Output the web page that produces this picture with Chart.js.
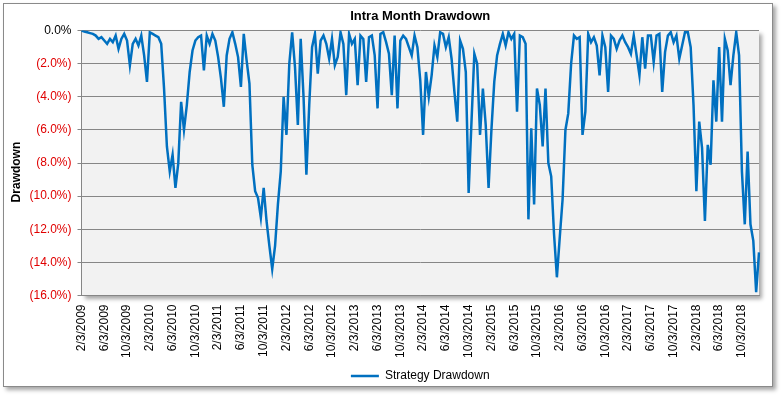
<!DOCTYPE html>
<html>
<head>
<meta charset="utf-8">
<title>Intra Month Drawdown</title>
<script src="https://cdn.jsdelivr.net/npm/chart.js@4.4.1/dist/chart.umd.min.js"></script>
<style>
    body { margin: 0; background: #fff; }
    #wrap { position: relative; width: 782px; height: 396px; }
    #frame {
        position: absolute; left: 3px; top: 3px; width: 768px; height: 382px;
        border: 1px solid #8a8a8a; background: #fff;
        box-shadow: 3px 3px 4px rgba(0, 0, 0, 0.35);
    }
    #chart { position: absolute; left: 0; top: 0; }
</style>
</head>
<body>
<div id="wrap">
    <div id="frame"></div>
    <canvas id="chart" width="782" height="396"></canvas>
</div>
<script>
// Tick labels shown on the x axis (one every 4 months)
const tickLabels = [
    "2/3/2009", "6/3/2009", "10/3/2009",
    "2/3/2010", "6/3/2010", "10/3/2010",
    "2/3/2011", "6/3/2011", "10/3/2011",
    "2/3/2012", "6/3/2012", "10/3/2012",
    "2/3/2013", "6/3/2013", "10/3/2013",
    "2/3/2014", "6/3/2014", "10/3/2014",
    "2/3/2015", "6/3/2015", "10/3/2015",
    "2/3/2016", "6/3/2016", "10/3/2016",
    "2/3/2017", "6/3/2017", "10/3/2017",
    "2/3/2018", "6/3/2018", "10/3/2018"
];

// Drawdown in %, two readings per month starting 2/3/2009
const drawdown = [
    0, -0.05, -0.1, -0.15, -0.2, -0.3, -0.5, -0.4, -0.6, -0.8,
    -0.5, -0.7, -0.3, -1.1, -0.5, -0.2, -0.6, -2.1, -0.8, -0.5,
    -0.9, -0.3, -1.5, -3.1, -0.1, -0.2, -0.3, -0.4, -0.8, -3.5,
    -7.0, -8.5, -7.5, -9.5, -8.0, -4.3, -6.0, -4.5, -2.5, -1.2,
    -0.6, -0.4, -0.3, -2.4, -0.3, -0.8, -0.2, -0.6, -1.6, -2.9,
    -4.6, -1.5, -0.5, -0.1, -0.8, -1.6, -3.4, -0.2, -1.8, -3.2,
    -8.1, -9.7, -10.1, -11.3, -9.5, -11.5, -13.0, -14.4, -13.0, -10.5,
    -8.5, -4.0, -6.3, -2.0, -0.1, -2.2, -5.7, -0.5, -4.0, -8.7,
    -4.5, -1.0, -0.2, -2.6, -0.6, -0.3, -0.8, -1.7, -0.5, -2.1,
    -1.6, -0.1, -0.8, -3.9, -0.2, -0.8, -0.5, -3.3, -0.3, -0.5,
    -3.1, -0.4, -0.3, -1.5, -4.7, -0.2, -0.1, -0.7, -1.4, -3.9,
    -0.3, -4.7, -0.6, -0.3, -0.5, -1.0, -1.5, -0.3, -1.0, -3.0,
    -6.3, -2.5, -4.0, -2.7, -0.9, -1.6, -0.1, -0.2, -1.0, -0.4,
    -1.7, -3.7, -5.5, -0.6, -1.1, -2.5, -9.8, -5.5, -1.4, -2.0,
    -6.3, -3.5, -5.7, -9.5, -6.0, -3.1, -1.5, -0.8, -0.2, -0.9,
    -0.1, -0.5, -0.2, -4.9, -0.3, -0.4, -0.8, -11.4, -5.9, -10.5,
    -3.5, -4.5, -7.0, -3.5, -8.0, -8.8, -12.3, -14.9, -12.5, -10.2,
    -6.0, -5.0, -2.0, -0.3, -0.5, -0.4, -6.3, -4.9, -0.2, -0.7,
    -0.4, -0.9, -2.7, -0.3, -1.0, -3.7, -0.3, -0.5, -1.1, -0.6,
    -0.3, -0.7, -1.0, -1.4, -0.3, -1.5, -2.7, -0.4, -2.3, -0.3,
    -0.3, -1.9, -0.3, -0.2, -3.7, -1.3, -0.3, -0.1, -0.7, -0.3,
    -1.7, -0.9, -0.1, -0.1, -1.0, -4.5, -9.7, -5.5, -7.1, -11.5,
    -6.9, -8.1, -3.0, -5.5, -1.0, -5.5, -0.5, -1.2, -3.3, -1.5,
    -0.1, -1.5, -8.5, -11.7, -7.3, -11.7, -12.7, -15.8, -13.4
];

const pointsPerTick = 8;
const categories = drawdown.map((v, i) => i % pointsPerTick === 0 ? (tickLabels[i / pointsPerTick] || "") : "");

const fontFamily = "'Liberation Sans', Arial, sans-serif";
const gridColor = "#868686";

// Grey plot area with a soft shadow, like the spreadsheet chart
const plotBackground = {
    id: "plotBackground",
    beforeDraw(chart) {
        const { ctx, chartArea: a } = chart;
        ctx.save();
        ctx.shadowColor = "rgba(0, 0, 0, 0.35)";
        ctx.shadowOffsetX = 3;
        ctx.shadowOffsetY = 3;
        ctx.shadowBlur = 4;
        ctx.fillStyle = "#f2f2f2";
        ctx.fillRect(a.left, a.top, a.right - a.left, a.bottom - a.top);
        ctx.restore();
    }
};

// Y axis title, placed a little below the middle as in the original
const yTitle = {
    id: "yTitle",
    afterDraw(chart) {
        const { ctx, chartArea: a } = chart;
        ctx.save();
        ctx.translate(17, (a.top + a.bottom) / 2 + 9);
        ctx.rotate(-Math.PI / 2);
        ctx.font = "bold 12px " + fontFamily;
        ctx.fillStyle = "#000";
        ctx.textAlign = "center";
        ctx.textBaseline = "middle";
        ctx.fillText("Drawdown", 0, 0);
        ctx.restore();
    }
};

new Chart(document.getElementById("chart"), {
    type: "line",
    data: {
        labels: categories,
        datasets: [{
            label: "Strategy Drawdown",
            data: drawdown,
            borderColor: "#0070c0",
            backgroundColor: "#0070c0",
            borderWidth: 2.5,
            pointRadius: 0,
            tension: 0,
            fill: false
        }]
    },
    options: {
        responsive: false,
        animation: false,
        layout: { padding: { left: 0, right: 23, top: 0, bottom: 4 } },
        plugins: {
            title: {
                display: true,
                text: "Intra Month Drawdown",
                color: "#000",
                fullSize: false,
                font: { family: fontFamily, size: 13, weight: "bold" },
                padding: { top: 9, bottom: 6 }
            },
            legend: {
                position: "bottom",
                fullSize: false,
                labels: {
                    color: "#000",
                    font: { family: fontFamily, size: 12 },
                    usePointStyle: true,
                    pointStyle: "line",
                    pointStyleWidth: 28,
                    boxWidth: 28
                }
            },
            tooltip: { enabled: false }
        },
        scales: {
            x: {
                offset: false,
                grid: { display: false, drawTicks: false },
                border: { display: true, color: gridColor },
                ticks: {
                    autoSkip: false,
                    minRotation: 90,
                    maxRotation: 90,
                    padding: 9,
                    color: "#000",
                    font: { family: fontFamily, size: 12 },
                    callback: function (value) {
                        const l = this.getLabelForValue(value);
                        return l === "" ? null : l;
                    }
                },
                afterFit: s => { s.height = 64.5; }
            },
            y: {
                min: -16,
                max: 0,
                grid: { color: gridColor, tickLength: 4 },
                border: { color: gridColor },
                ticks: {
                    stepSize: 2,
                    padding: 6,
                    font: { family: fontFamily, size: 12 },
                    color: c => c.tick.value < 0 ? "#e00000" : "#000",
                    callback: v => v === 0 ? "0.0%" : "(" + Math.abs(v).toFixed(1) + "%)"
                },
                afterFit: s => { s.width = 81.5; }
            }
        }
    },
    plugins: [plotBackground, yTitle]
});
</script>
</body>
</html>
